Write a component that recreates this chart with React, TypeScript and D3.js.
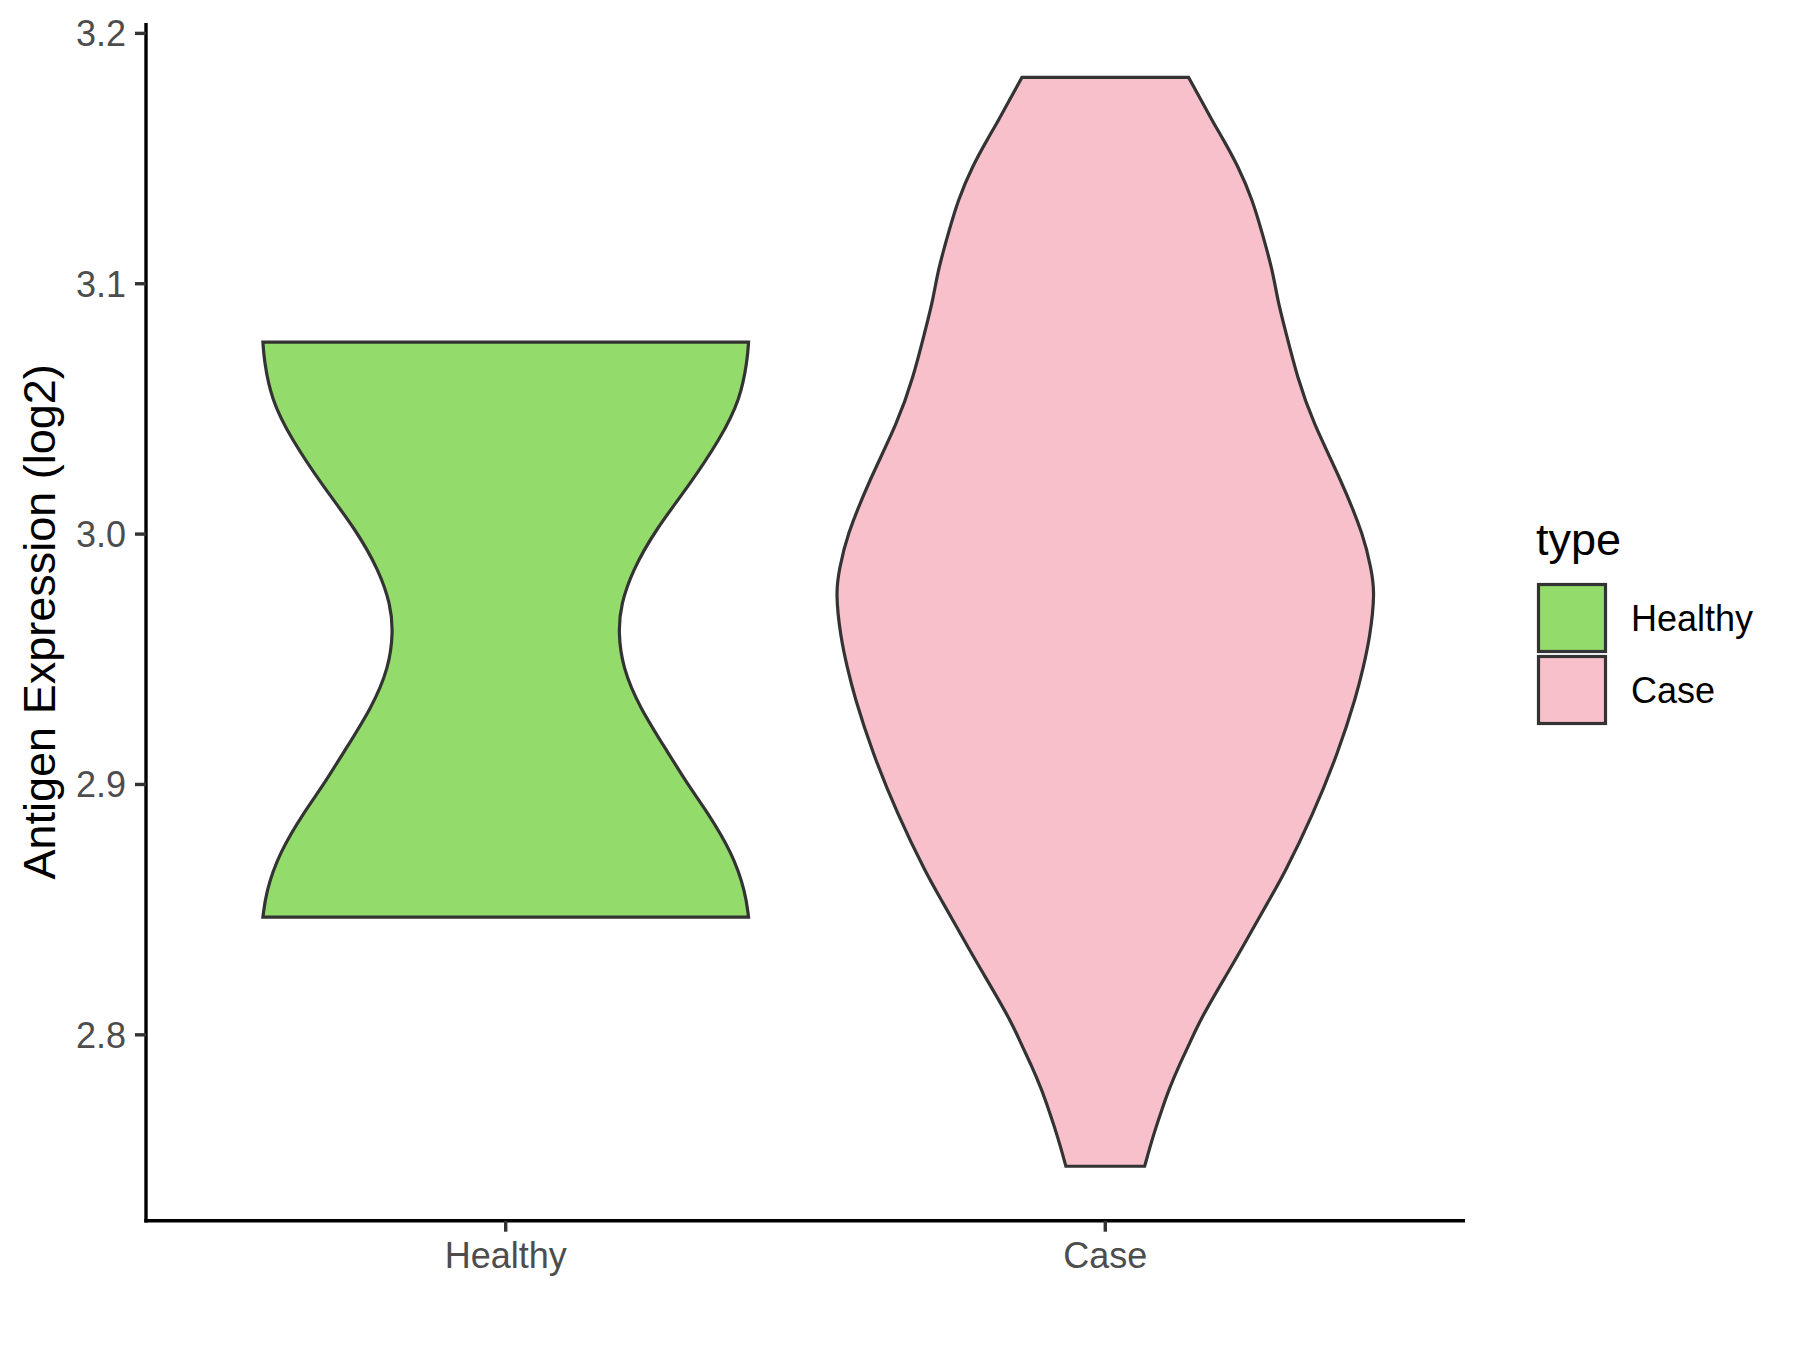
import React from "react";
import * as d3 from "d3";

// ---- data ----
const categories = ["Healthy", "Case"];
const fillColors = ["#93DB6A", "#F7C0CB"];
const yTicks = [2.8, 2.9, 3.0, 3.1, 3.2];

// violin outlines: value (log2 expression) and relative density width (max = 1)
const healthyValues = [3.0767, 3.0698, 3.054, 3.0382, 3.0193, 3.0019, 2.9853, 2.9719, 2.961, 2.9467, 2.9309, 2.912, 2.8994, 2.8899, 2.8725, 2.8568, 2.847];
const healthyDensity = [0.9, 0.896, 0.87, 0.796, 0.679, 0.556, 0.469, 0.427, 0.417, 0.433, 0.495, 0.606, 0.678, 0.742, 0.841, 0.889, 0.9];

const caseValues = [3.1824, 3.1637, 3.159, 3.1469, 3.1331, 3.1208, 3.1055, 3.0933, 3.0816, 3.0628, 3.0444, 3.0217, 2.9985, 2.9861, 2.977, 2.9586, 2.9466, 2.9355, 2.9127, 2.888, 2.8636, 2.8544, 2.8333, 2.8241, 2.8057, 2.7966, 2.7874, 2.7782, 2.7702, 2.7628, 2.755, 2.7475];
const caseDensity = [0.309, 0.404, 0.43, 0.493, 0.547, 0.58, 0.62, 0.639, 0.667, 0.711, 0.77, 0.874, 0.961, 0.985, 1.0, 0.981, 0.956, 0.931, 0.863, 0.77, 0.66, 0.61, 0.5, 0.45, 0.35, 0.313, 0.272, 0.236, 0.21, 0.187, 0.165, 0.146];

const groups = [
  { name: categories[0], values: healthyValues, density: healthyDensity, fill: fillColors[0] },
  { name: categories[1], values: caseValues, density: caseDensity, fill: fillColors[1] },
];

export default function App() {
  const W = 1800, H = 1350;
  const left = 146, right = 1465, top = 23, bottom = 1220.7;
  const font = "'Liberation Sans', Arial, Helvetica, sans-serif";

  const allVals = [...healthyValues, ...caseValues];
  const lo = d3.min(allVals)!, hi = d3.max(allVals)!;
  const pad = (hi - lo) * 0.05;
  const y = d3.scaleLinear().domain([lo - pad, hi + pad]).range([bottom, top]);
  const x = d3.scaleLinear().domain([0.4, 2.6]).range([left, right]);
  const halfUnit = 0.45;

  const outline = "#333333";

  return (
    <svg width={W} height={H} style={{ position: "absolute", left: 0, top: 0, background: "#fff" }} fontFamily={font}>
      <rect x={0} y={0} width={W} height={H} fill="#fff" />
      {groups.map((g, i) => {
        const cx = x(i + 1);
        const hw = x(1 + halfUnit) - x(1);
        const pts = g.values.map((v, k) => ({ v, d: g.density[k] }));
        const area = d3
          .area<{ v: number; d: number }>()
          .y((d) => y(d.v))
          .x0((d) => cx - d.d * hw)
          .x1((d) => cx + d.d * hw)
          .curve(d3.curveBasis);
        return (
          <path key={g.name} d={area(pts) || ""} fill={g.fill} stroke={outline} strokeWidth={3.2} />
        );
      })}

      {/* axes */}
      <line x1={left} x2={left} y1={top} y2={bottom + 1.7} stroke="#000" strokeWidth={3.4} />
      <line x1={left - 1.7} x2={right} y1={bottom} y2={bottom} stroke="#000" strokeWidth={3.4} />

      {yTicks.map((t) => (
        <g key={t}>
          <line x1={left - 11} x2={left} y1={y(t)} y2={y(t)} stroke={outline} strokeWidth={3.4} />
          <text x={left - 20} y={y(t)} dy="0.36em" textAnchor="end" fontSize={36} fill="#4D4D4D">
            {t.toFixed(1)}
          </text>
        </g>
      ))}
      {categories.map((c, i) => (
        <g key={c}>
          <line x1={x(i + 1)} x2={x(i + 1)} y1={bottom} y2={bottom + 11} stroke={outline} strokeWidth={3.4} />
          <text x={x(i + 1)} y={1268} textAnchor="middle" fontSize={36} fill="#4D4D4D">
            {c}
          </text>
        </g>
      ))}

      <text
        transform={`translate(55, ${(top + bottom) / 2}) rotate(-90)`}
        textAnchor="middle"
        fontSize={45}
        fill="#000"
      >
        Antigen Expression (log2)
      </text>

      {/* legend */}
      <text x={1536} y={555} fontSize={45} fill="#000">type</text>
      {groups.map((g, i) => (
        <g key={g.name}>
          <rect x={1538.5} y={584.5 + i * 72} width={67} height={67} fill={g.fill} stroke={outline} strokeWidth={3.2} />
          <text x={1631} y={618 + i * 72} dy="0.36em" fontSize={36} fill="#000">
            {g.name}
          </text>
        </g>
      ))}
    </svg>
  );
}
